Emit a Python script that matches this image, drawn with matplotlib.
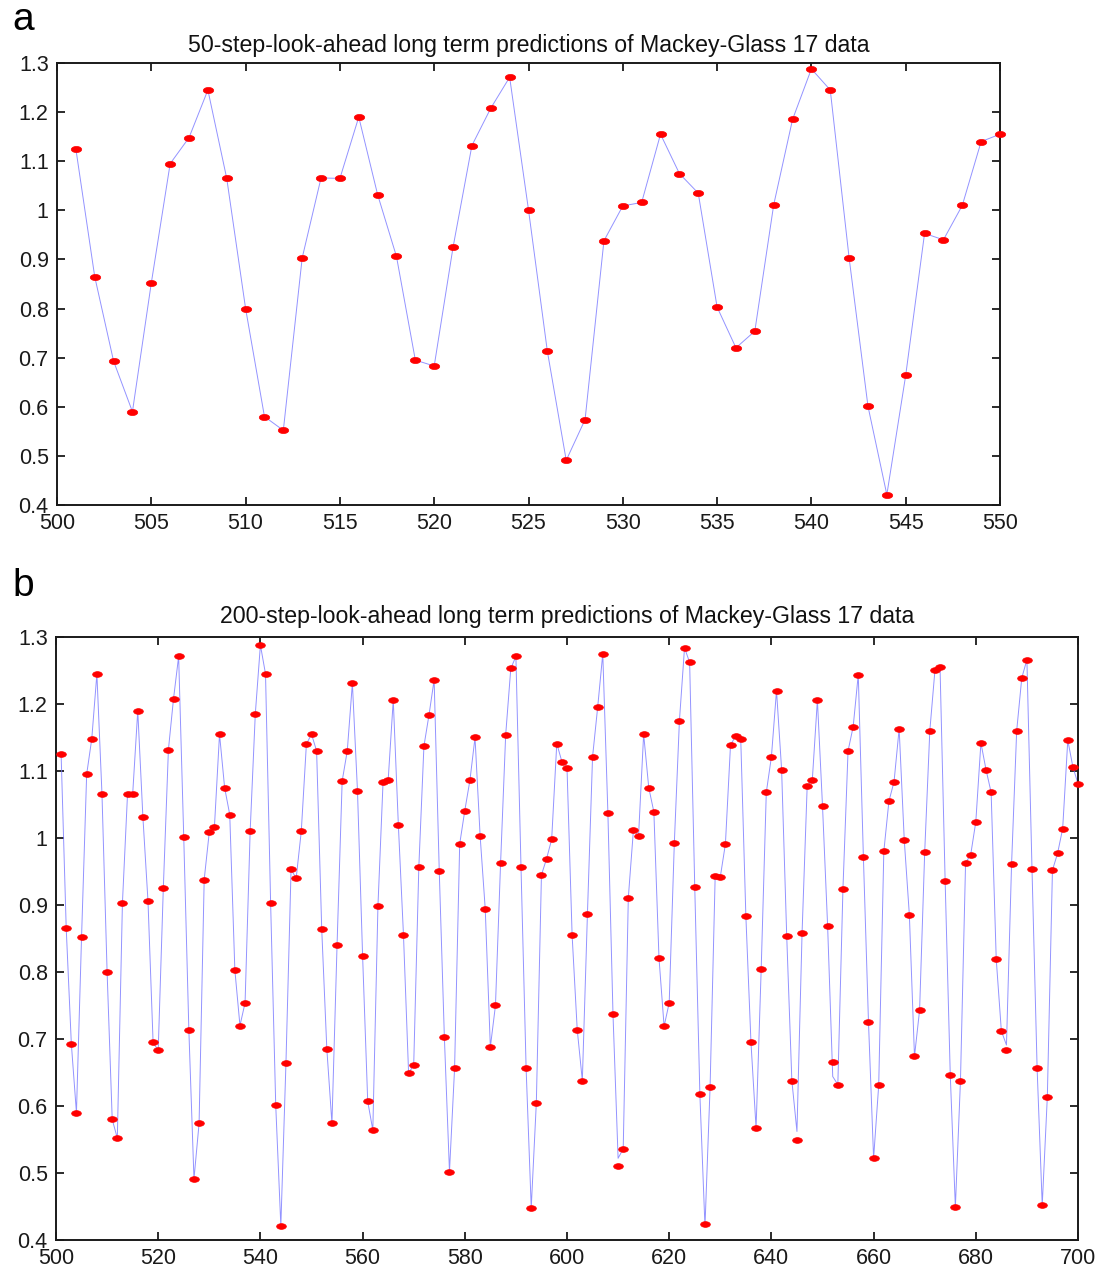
#!/usr/bin/env python3
import matplotlib
matplotlib.use("Agg")
import matplotlib.pyplot as plt
from matplotlib.path import Path
from matplotlib.transforms import Affine2D
import numpy as np

# predicted values, steps 501..550 (panel a is the first 50 of panel b)
pred_a = [1.125, 0.865, 0.693, 0.590, 0.852, 1.095, 1.148, 1.245, 1.065, 0.800,
          0.580, 0.552, 0.903, 1.066, 1.065, 1.190, 1.032, 0.906, 0.695, 0.683,
          0.925, 1.132, 1.208, 1.271, 1.001, 0.713, 0.491, 0.574, 0.938, 1.009,
          1.016, 1.155, 1.075, 1.035, 0.803, 0.720, 0.754, 1.011, 1.185, 1.288,
          1.245, 0.903, 0.601, 0.421, 0.664, 0.953, 0.940, 1.010, 1.140, 1.155]

# steps 551..700
pred_rest = [1.130, 0.864, 0.685, 0.574, 0.840, 1.085, 1.130, 1.231, 1.070, 0.824,
             0.607, 0.564, 0.898, 1.083, 1.086, 1.206, 1.019, 0.855, 0.649, 0.661,
             0.956, 1.137, 1.184, 1.236, 0.951, 0.703, 0.502, 0.656, 0.991, 1.041,
             1.086, 1.150, 1.003, 0.894, 0.688, 0.750, 0.962, 1.154, 1.253, 1.271,
             0.956, 0.656, 0.448, 0.605, 0.945, 0.969, 0.998, 1.141, 1.114, 1.105,
             0.855, 0.714, 0.638, 0.887, 1.121, 1.195, 1.275, 1.038, 0.737, 0.511,
             0.536, 0.911, 1.012, 1.003, 1.155, 1.075, 1.039, 0.821, 0.719, 0.754,
             0.992, 1.175, 1.284, 1.262, 0.927, 0.618, 0.424, 0.628, 0.944, 0.942,
             0.991, 1.139, 1.152, 1.148, 0.884, 0.695, 0.567, 0.804, 1.068, 1.121,
             1.220, 1.102, 0.853, 0.638, 0.549, 0.858, 1.077, 1.086, 1.206, 1.048,
             0.869, 0.666, 0.632, 0.924, 1.130, 1.166, 1.244, 0.972, 0.725, 0.522,
             0.631, 0.980, 1.055, 1.084, 1.163, 0.997, 0.885, 0.674, 0.743, 0.979,
             1.160, 1.250, 1.255, 0.936, 0.647, 0.449, 0.638, 0.963, 0.975, 1.024,
             1.142, 1.102, 1.068, 0.819, 0.712, 0.683, 0.961, 1.160, 1.239, 1.266,
             0.953, 0.656, 0.452, 0.614, 0.952, 0.977, 1.014, 1.146, 1.106, 1.081]

steps_a = list(range(501, 551))
steps_b = list(range(501, 701))
pred_b = pred_a + pred_rest

# the blue (actual) curve differs from the dots at a few steps
actual_fix = {610: 0.522, 627: 0.420, 645: 0.562, 652: 0.644, 686: 0.691}
actual_b = list(pred_b)
for s, v in actual_fix.items():
    actual_b[steps_b.index(s)] = v

titles = ["50-step-look-ahead long term predictions of Mackey-Glass 17 data",
          "200-step-look-ahead long term predictions of Mackey-Glass 17 data"]

plt.rcParams['font.family'] = ['Liberation Sans', 'DejaVu Sans']

# flat ellipse marker like the original
ell = Path.unit_circle().transformed(Affine2D().scale(1.7, 1.0))

fig = plt.figure(figsize=(11.01, 12.75), dpi=100)
ax_a = fig.add_axes([57 / 1101, 1 - 505 / 1275, 943 / 1101, 442 / 1275])
ax_b = fig.add_axes([56 / 1101, 1 - 1240 / 1275, 1022 / 1101, 603 / 1275])


def style(ax, xlim, xstep, title, pad):
    ax.set_xlim(*xlim)
    ax.set_ylim(0.4, 1.3)
    ax.set_xticks(np.arange(xlim[0], xlim[1] + 1, xstep))
    yt = np.round(np.arange(0.4, 1.31, 0.1), 1)
    ax.set_yticks(yt)
    ax.set_yticklabels(["%g" % v for v in yt])
    ax.tick_params(direction='in', length=6, width=1.3, top=True, right=True,
                   labelsize=15.5, colors='#1a1a1a', pad=6)
    for sp in ax.spines.values():
        sp.set_linewidth(1.4)
        sp.set_color('#1a1a1a')
    ax.set_title(title, fontsize=16.7, color='#111111', pad=pad)


ax_a.plot(steps_a, pred_a, color='#7878ff', lw=0.7, alpha=0.8, zorder=2)
ax_a.plot(steps_a, pred_a, ls='none', marker=ell, ms=7.5, mfc='red', mec='red',
          mew=0.5, zorder=3, clip_on=False)
style(ax_a, (500, 550), 5, titles[0], 8)

ax_b.plot(steps_b, actual_b, color='#7878ff', lw=0.7, alpha=0.8, zorder=2)
ax_b.plot(steps_b, pred_b, ls='none', marker=ell, ms=7, mfc='red', mec='red',
          mew=0.5, zorder=3, clip_on=False)
style(ax_b, (500, 700), 20, titles[1], 10)

fig.text(12 / 1101, 1 - 2 / 1275, "a", fontsize=28, va='top', ha='left')
fig.text(12 / 1101, 1 - 568 / 1275, "b", fontsize=28, va='top', ha='left')

fig.savefig("out.png", dpi=100)
